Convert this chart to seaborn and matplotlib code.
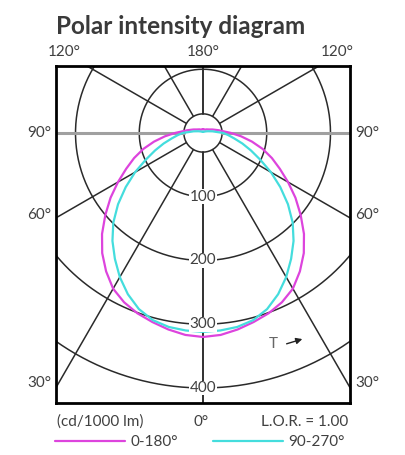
import numpy as np
import matplotlib
matplotlib.use("Agg")
import matplotlib.pyplot as plt
import seaborn as sns
import pandas as pd

# ============================================
# DATA (cd/1000 lm), angle measured from nadir
# ============================================
ANGLES = [0, 5, 10, 15, 20, 25, 30, 35, 40, 45, 50, 55, 60, 65, 70,
          75, 80, 85, 90, 100, 110, 120, 135, 150, 165, 180]
I_C0_180 = [320, 318, 313, 307, 301, 293, 282, 265, 246, 224, 200, 177, 154,
            133, 115, 97, 78, 60, 44, 25, 16, 11, 8, 6, 6, 6]
I_C90_270 = [312, 311, 309, 304, 294, 279, 261, 241, 221, 199, 174, 148, 123,
             99, 80, 64, 50, 40, 32, 15, 8, 5, 3, 2, 2, 2]
RINGS = [100, 200, 300, 400]
SPOKES = [0, 30, 60, 120, 150, 180]
LEFT_LABELS = ["90°", "60°", "30°"]
TOP_LABELS = ["120°", "180°", "120°"]
SERIES = ["0-180°", "90-270°"]
COLORS = ["#dd44dd", "#44dddd"]
TITLE = "Polar intensity diagram"
UNIT = "(cd/1000 lm)"
LOR = "L.O.R. = 1.00"

HOLE = 30
FS = 11


def polar_xy(theta_deg, values, side):
    th = np.radians(np.asarray(theta_deg, dtype=float))
    v = np.asarray(values, dtype=float)
    return side * v * np.sin(th), -v * np.cos(th)


def curve_frame(values, name):
    # left half then right half so the loop closes
    xl, yl = polar_xy(ANGLES[::-1], values[::-1], -1)
    xr, yr = polar_xy(ANGLES, values, 1)
    return pd.DataFrame({"x": np.r_[xl, xr], "y": np.r_[yl, yr], "plane": name})


sns.set_style("white")
plt.rcParams["font.family"] = ["Lato", "DejaVu Sans"]
TXT = "#404040"

fig = plt.figure(figsize=(4.05, 4.55), dpi=100)
ax = fig.add_axes([56 / 405, 1 - 403 / 455, 294 / 405, 337 / 455])
ax.set_xlim(-230.6, 230.6)
ax.set_ylim(-423.5, 105)
ax.set_aspect("equal")

# grid: rings
t = np.linspace(0, 2 * np.pi, 400)
for r in RINGS + [HOLE]:
    ax.plot(r * np.cos(t), r * np.sin(t), color="#2a2a2a", lw=1.1, zorder=2)
    if r != HOLE:
        ax.text(0, -r, str(r), ha="center", va="center", fontsize=FS, color=TXT,
                bbox=dict(boxstyle="square,pad=0.02", fc="white", ec="none"), zorder=4)

# grid: spokes
for a in SPOKES:
    for side in (-1, 1):
        x, y = polar_xy([a, a], [HOLE, 900], side)
        ax.plot(x, y, color="#2a2a2a", lw=1.1, zorder=2)
for side in (-1, 1):
    ax.plot([side * HOLE, side * 900], [0, 0], color="#a0a0a0", lw=2.2, zorder=2)

# curves
df = pd.concat([curve_frame(I_C0_180, SERIES[0]), curve_frame(I_C90_270, SERIES[1])])
sns.lineplot(data=df, x="x", y="y", hue="plane", palette=COLORS, sort=False,
             estimator=None, lw=1.6, ax=ax, zorder=3)

ax.set_xticks([])
ax.set_yticks([])
ax.set_xlabel("")
ax.set_ylabel("")
for s in ax.spines.values():
    s.set_visible(True)
    s.set_color("black")
    s.set_linewidth(2)

leg = ax.legend(loc="upper left", bbox_to_anchor=(-0.005, -0.095), ncol=2,
                frameon=False, fontsize=FS, handlelength=4.6, handletextpad=0.35,
                columnspacing=2.3, borderaxespad=0, borderpad=0)
for txt in leg.get_texts():
    txt.set_color(TXT)

# outer labels
def ftext(x, y, s, **kw):
    kw.setdefault("fontsize", FS)
    kw.setdefault("color", TXT)
    fig.text(x / 405, 1 - y / 455, s, **kw)

ftext(56, 27, TITLE, fontsize=17.5, fontweight="bold", ha="left", va="center",
      color="#3a3a3a")
for xp, s in zip([64, 203, 337], TOP_LABELS):
    ftext(xp, 52, s, ha="center", va="center")
for yp, s in zip([133, 215, 383], LEFT_LABELS):
    ftext(39, yp, s, ha="center", va="center")
    ftext(367, yp, s, ha="center", va="center")
ftext(57, 422, UNIT, ha="left", va="center")
ftext(201, 422, "0°", ha="center", va="center")
ftext(348, 422, LOR, ha="right", va="center")

# T arrow
ax.annotate("", xy=(160, -322), xytext=(127, -332),
            arrowprops=dict(arrowstyle="-|>", color="#222222", lw=1, mutation_scale=9))
ax.text(110, -331, "T", ha="center", va="center", fontsize=FS, color="#666666")

plt.savefig("out.png", dpi=100)
